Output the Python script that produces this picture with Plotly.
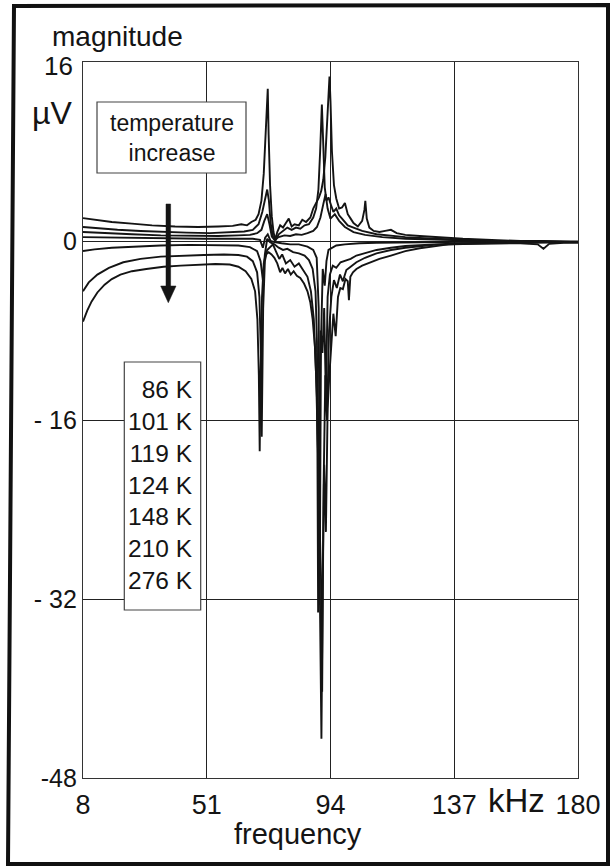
import plotly.graph_objects as go

# ---------------- data ----------------
temperatures = ["86 K", "101 K", "119 K", "124 K", "148 K", "210 K", "276 K"]

A_f = [8, 12, 18, 25, 32, 40, 48, 55, 60, 63, 65, 66.5, 68, 69, 70, 70.8, 71.5, 72.0, 72.2, 72.5,
       73.0, 73.6, 74.2, 74.8, 75.5, 76.5, 77.5, 78.5, 79.5, 80.5, 81.5, 83, 84.2, 85.5, 87, 88, 89, 90, 90.8, 91.5,
       92.2, 92.8, 93.3, 93.65, 94.0, 94.5, 95.2, 96, 97, 98, 99, 100, 101, 102, 103.5, 105, 105.8, 106.1, 106.6, 107.5,
       109, 111, 113, 115, 117, 120, 125, 130, 140, 150, 160, 168, 175, 180]
A_v = [2.05, 1.9, 1.7, 1.55, 1.4, 1.3, 1.25, 1.3, 1.35, 1.5, 1.4, 1.7, 1.9, 2.4, 3.6, 6.0, 10.0, 13.0, 13.6, 9.5,
       5.0, 2.2, 0.8, 0.1, 0.8, 1.4, 1.2, 1.6, 2.0, 1.3, 1.5, 1.4, 1.9, 1.7, 2.1, 2.9, 3.4, 3.9, 4.5, 5.5,
       7.5, 10.5, 13.2, 14.7, 12.5, 8.0, 5.0, 3.8, 2.9, 3.0, 3.4, 2.4, 2.0, 1.6, 1.3, 1.8, 2.8, 3.6, 2.0, 1.2,
       0.9, 0.8, 0.9, 1.0, 0.7, 0.55, 0.45, 0.35, 0.2, 0.1, 0.0, 0.0, -0.05, -0.1]

B_f = [8, 14, 20, 28, 36, 44, 52, 60, 64, 67, 69, 70.3, 71.2, 72.0, 72.6, 73.2, 74, 74.8, 76, 77.5,
       79, 80.5, 82, 83.5, 85, 86.5, 88, 89, 89.8, 90.4, 91.0, 91.5, 92.0, 92.6, 93.3, 94.2, 95, 96, 97, 98,
       100, 102, 105, 110, 115, 120, 130, 140, 150, 165, 180]
B_v = [1.25, 1.1, 1.0, 0.9, 0.8, 0.75, 0.7, 0.8, 0.85, 1.0, 1.5, 2.6, 3.8, 4.6, 3.6, 1.6, 0.4, 0.0, 0.6, 0.9,
       1.2, 1.0, 1.2, 1.1, 1.4, 1.5, 2.1, 2.9, 4.6, 8.0, 12.2, 8.5, 4.8, 3.6, 3.9, 3.2, 2.6, 2.9, 2.3, 2.0,
       1.4, 1.2, 0.9, 0.6, 0.45, 0.35, 0.2, 0.1, 0.0, -0.05, -0.1]

C_f = [8, 15, 25, 35, 45, 55, 62, 66, 68.5, 70, 71, 72, 72.8, 73.6, 74.6, 76, 78, 80, 82, 84,
       86, 88, 89.3, 90.5, 91.5, 92.3, 93, 94, 95.5, 97, 99, 102, 106, 112, 120, 135, 150, 180]
C_v = [0.8, 0.7, 0.6, 0.5, 0.45, 0.45, 0.5, 0.55, 0.7, 1.0, 1.8, 2.4, 1.5, 0.4, 0.1, 0.35, 0.5, 0.45, 0.6, 0.55,
       0.7, 0.9, 1.25, 2.1, 3.3, 4.2, 2.9, 2.0, 2.4, 1.8, 1.25, 0.8, 0.55, 0.35, 0.2, 0.1, 0.0, -0.05]

D_f = [8, 20, 35, 50, 62, 67, 69.5, 70.5, 71.3, 72.2, 73.2, 74.5, 77, 80, 83, 86, 88, 89.2, 89.9, 90.3,
       90.7, 91.3, 92, 92.6, 93.3, 94.5, 96, 99, 104, 110, 125, 150, 180]
D_v = [0.35, 0.3, 0.25, 0.2, 0.2, 0.2, 0.1, -0.6, 0.3, 0.6, 0.0, -0.1, -0.2, -0.3, -0.3, -0.5, -0.8, -1.5, -6.0, -29.0,
       -9.0, -2.5, -4.0, -1.8, -0.8, -0.6, -0.4, -0.3, -0.2, -0.15, -0.1, -0.05, -0.1]

E_f = [8, 12, 18, 25, 35, 45, 55, 62, 66, 68.5, 69.7, 70.5, 71.2, 72, 73, 74.5, 76, 77.5, 79, 81,
       83, 85, 86.5, 87.8, 88.8, 89.3, 89.7, 90.1, 90.6, 91.2, 91.8, 92.4, 93.0, 93.8, 94.8, 96, 97.5, 99, 101, 103,
       106, 110, 115, 120, 130, 140, 160, 180]
E_v = [-0.9, -0.75, -0.6, -0.5, -0.4, -0.35, -0.35, -0.4, -0.55, -0.9, -1.8, -3.5, -1.2, 0.2, -0.1, -0.3, -0.6, -0.8, -0.7, -1.0,
       -1.1, -1.3, -1.7, -2.5, -4.5, -9.0, -33.2, -15.0, -8.0, -10.0, -6.0, -14.0, -5.0, -3.0, -2.2, -2.4, -1.9, -1.8, -1.6, -1.3,
       -1.1, -0.8, -0.6, -0.45, -0.3, -0.2, -0.1, -0.1]

F_f = [8, 10, 13, 17, 22, 28, 35, 42, 50, 57, 62, 65, 67, 68.5, 69.3, 69.8, 70.1, 70.6, 71.2, 72,
       73, 74, 75, 76.2, 77.2, 78.5, 80, 81.5, 83, 84.5, 86, 87.2, 88.2, 89, 89.6, 90.2, 90.7, 91.1, 91.6, 92.2,
       92.8, 93.5, 94.3, 95.2, 96.2, 97.3, 98.3, 99.5, 101, 103, 106, 110, 115, 120, 130, 140, 150, 165, 180]
F_v = [-4.5, -3.7, -3.0, -2.4, -1.9, -1.6, -1.4, -1.3, -1.25, -1.2, -1.25, -1.4, -1.8, -2.8, -5.0, -10.0, -17.5, -6.0, -1.8, -0.8,
       -0.5, -0.3, -0.9, -1.6, -1.2, -2.0, -1.7, -2.3, -2.0, -2.6, -3.2, -4.5, -7.0, -12.0, -20.0, -25.0, -30.0, -40.3, -22.0, -12.0,
       -16.0, -8.0, -5.0, -3.5, -4.2, -3.0, -3.6, -2.6, -2.3, -1.9, -1.5, -1.1, -0.8, -0.6, -0.35, -0.25, -0.2, -0.15, -0.1]

G_f = [8, 9.5, 11, 13, 15.5, 18, 21, 25, 30, 36, 42, 48, 54, 59, 62, 64.5, 66.5, 67.8, 68.6, 69.1,
       69.4, 69.7, 70.2, 70.8, 71.5, 72.5, 73.5, 74.5, 75.5, 76.5, 77.3, 78.2, 79.2, 80.2, 81.2, 82.3, 83.5, 84.8, 86, 87,
       87.8, 88.6, 89.3, 89.9, 90.4, 90.85, 91.3, 91.8, 92.4, 93, 93.6, 94.3, 95, 95.8, 96.6, 97.4, 98.3, 99.2, 100, 100.4,
       100.9, 101.8, 103, 105, 108, 111, 115, 120, 125, 130, 135, 140, 150, 160, 166, 168, 170, 175, 180]
G_v = [-7.2, -6.2, -5.4, -4.6, -3.9, -3.4, -3.0, -2.7, -2.5, -2.3, -2.2, -2.1, -2.05, -2.1, -2.3, -2.7, -3.4, -4.5, -7.0, -12.0,
       -18.8, -12.0, -5.0, -2.0, -1.2, -1.0, -1.2, -1.5, -2.0, -2.8, -2.4, -2.9, -2.5, -3.0, -2.7, -3.1, -3.3, -3.8, -4.5, -5.5,
       -7.0, -9.5, -14.0, -22.0, -32.0, -44.5, -30.0, -20.0, -26.0, -15.0, -12.0, -9.0, -6.5, -8.5, -5.0, -4.2, -4.3, -3.4, -3.6, -5.3,
       -3.2, -2.8, -2.5, -2.2, -1.9, -1.6, -1.3, -0.9, -0.65, -0.45, -0.3, -0.25, -0.2, -0.2, -0.3, -0.7, -0.25, -0.15, -0.15]

series = [(A_f, A_v), (B_f, B_v), (C_f, C_v), (D_f, D_v), (E_f, E_v), (F_f, F_v), (G_f, G_v)]

x_ticks = [8, 51, 94, 137, 180]
x_tick_text = ["8", "51", "94", "137", "180"]
y_ticks = [-48, -32, -16, 0]
y_tick_text = ["-48", "- 32", "- 16", "0"]

# ---------------- figure ----------------
INK = "#141414"
fig = go.Figure()
for (f, v), name in zip(series, temperatures):
    fig.add_trace(go.Scatter(x=f, y=v, mode="lines", name=name,
                             line=dict(color=INK, width=1.9), showlegend=False))

SANS = "Liberation Sans, Arial, Helvetica, sans-serif"

fig.update_layout(
    width=611, height=867,
    margin=dict(l=83, r=33, t=62, b=89),
    paper_bgcolor="white", plot_bgcolor="white",
    font=dict(family=SANS, color=INK),
    xaxis=dict(range=[8, 180], tickvals=x_ticks, ticktext=x_tick_text,
               showgrid=True, gridcolor="#222222", gridwidth=1,
               showline=True, linecolor="#333333", linewidth=1.2, mirror=True,
               zeroline=False, ticks="", tickfont=dict(size=27, family=SANS, color=INK),
               ticklabelstandoff=2, fixedrange=True, automargin=False),
    yaxis=dict(range=[-48, 16], tickvals=y_ticks, ticktext=y_tick_text,
               showgrid=True, gridcolor="#222222", gridwidth=1,
               showline=True, linecolor="#333333", linewidth=1.2, mirror=True,
               zeroline=False, ticks="", tickfont=dict(size=25, family=SANS, color=INK),
               ticklabelstandoff=0, fixedrange=True, automargin=False),
)

def px_x(px):
    return (px - 83) / 495.0

def px_y(py):
    return (778 - py) / 716.0

shapes = []
# outer frame of the figure (slightly skewed scan)
shapes.append(dict(type="path", xref="paper", yref="paper",
                   path=f"M {px_x(14)},{px_y(6)} L {px_x(608)},{px_y(5)} L {px_x(608)},{px_y(864)} L {px_x(8)},{px_y(864)} Z",
                   line=dict(color="#111111", width=4), fillcolor="rgba(0,0,0,0)", layer="above"))
# "temperature increase" box
shapes.append(dict(type="rect", xref="paper", yref="paper",
                   x0=px_x(97), x1=px_x(246), y0=px_y(173), y1=px_y(102),
                   line=dict(color="#444444", width=1.2), fillcolor="white", layer="above"))
# temperature list box
shapes.append(dict(type="rect", xref="paper", yref="paper",
                   x0=px_x(124.3), x1=px_x(200.7), y0=px_y(610), y1=px_y(362),
                   line=dict(color="#444444", width=1.2), fillcolor="white", layer="above"))
# arrow: shaft and head
shapes.append(dict(type="path", xref="paper", yref="paper",
                   path=f"M {px_x(166)},{px_y(204)} L {px_x(170.6)},{px_y(204)} L {px_x(170.6)},{px_y(288)} L {px_x(166)},{px_y(288)} Z",
                   line=dict(color=INK, width=0.5), fillcolor=INK, layer="above"))
shapes.append(dict(type="path", xref="paper", yref="paper",
                   path=f"M {px_x(160.7)},{px_y(286)} L {px_x(176)},{px_y(286)} L {px_x(168.3)},{px_y(302.7)} Z",
                   line=dict(color=INK, width=0.5), fillcolor=INK, layer="above"))
fig.update_layout(shapes=shapes)

ann = []
ann.append(dict(text="magnitude", x=px_x(117.5), y=px_y(37), xref="paper", yref="paper",
                showarrow=False, font=dict(size=28, family=SANS, color=INK), xanchor="center", yanchor="middle"))
ann.append(dict(text="16", x=px_x(58.5), y=px_y(66), xref="paper", yref="paper",
                showarrow=False, font=dict(size=26, family=SANS, color=INK), xanchor="center", yanchor="middle"))
ann.append(dict(text="µV", x=px_x(52), y=px_y(113), xref="paper", yref="paper",
                showarrow=False, font=dict(size=32, family=SANS, color=INK), xanchor="center", yanchor="middle"))
ann.append(dict(text="kHz", x=px_x(516), y=px_y(800), xref="paper", yref="paper",
                showarrow=False, font=dict(size=33, family=SANS, color=INK), xanchor="center", yanchor="middle"))
ann.append(dict(text="frequency", x=px_x(298), y=px_y(834), xref="paper", yref="paper",
                showarrow=False, font=dict(size=29, family=SANS, color=INK), xanchor="center", yanchor="middle"))
ann.append(dict(text="temperature<br>increase", x=px_x(171.5), y=px_y(138), xref="paper", yref="paper",
                showarrow=False, font=dict(size=23, family=SANS, color=INK), xanchor="center", yanchor="middle",
                align="center"))
ann.append(dict(text="<br>".join(temperatures), x=px_x(195), y=px_y(485), xref="paper", yref="paper",
                showarrow=False, font=dict(size=24.5, family=SANS, color=INK), xanchor="right", yanchor="middle",
                align="right"))
fig.update_layout(annotations=ann)

fig.write_html("out.html", config={"displayModeBar": False},
               post_script="document.body.style.margin='0';document.body.style.overflow='hidden';")
